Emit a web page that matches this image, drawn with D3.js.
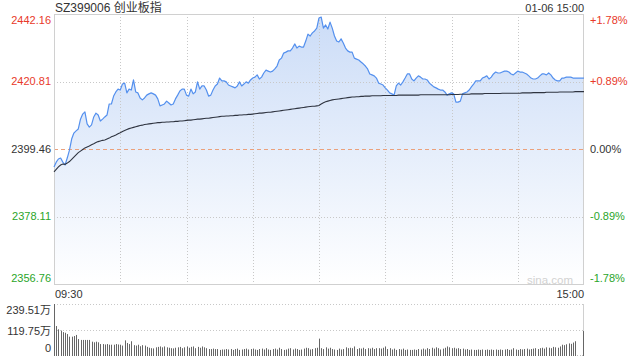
<!DOCTYPE html>
<html>
<head>
<meta charset="utf-8">
<script src="https://cdn.jsdelivr.net/npm/d3@7"></script>
<style>
html,body{margin:0;padding:0;background:#fff;}
svg{display:block;font-family:"Liberation Sans",Arial,"Noto Sans CJK SC",sans-serif;}
</style>
</head>
<body>
<svg id="chart" width="640" height="360"></svg>
<script>
// ---------- data ----------
const title = "SZ399006 创业板指";
const stamp = "01-06 15:00";
const timeLabels = ["09:30", "15:00"];
const preClose = 2399.46;
const priceTicks = [2442.16, 2420.81, 2399.46, 2378.11, 2356.76];
const pctTicks = ["+1.78%", "+0.89%", "0.00%", "-0.89%", "-1.78%"];
const volTicks = [239.51, 119.75, 0];
const volTickLabels = ["239.51万", "119.75万", "0"];

// minute prices 09:30 .. 11:30, 13:01 .. 15:00 (241 points)
const price = [
2393.8,2395.3,2396.3,2396.6,2395.3,2394.4,2396.6,2399.1,2402.6,2404.5,
2405.2,2405.8,2408.9,2410.5,2411.2,2407.4,2406.4,2407.1,2409.6,2410.8,
2410.2,2408.3,2408.9,2409.6,2410.2,2413.7,2413.7,2416.2,2417.5,2418.4,
2418.1,2420.0,2420.3,2417.2,2418.4,2418.1,2421.3,2417.5,2417.2,2415.6,
2415.0,2415.6,2416.5,2416.9,2417.2,2416.9,2416.5,2415.3,2413.1,2413.4,
2413.7,2414.6,2414.0,2413.4,2413.7,2415.3,2416.5,2417.8,2418.4,2418.4,
2416.5,2416.2,2418.4,2416.9,2417.5,2420.7,2418.4,2419.4,2419.4,2418.1,
2416.2,2416.5,2418.1,2419.4,2420.0,2421.9,2421.0,2421.0,2420.7,2419.7,
2419.4,2419.1,2418.8,2419.4,2420.7,2419.4,2420.0,2420.7,2420.3,2421.3,
2421.9,2422.2,2422.9,2421.6,2422.2,2423.5,2424.4,2424.1,2423.8,2424.1,
2424.8,2425.7,2427.6,2428.2,2429.8,2430.1,2430.5,2430.5,2431.4,2432.7,
2431.4,2432.0,2431.7,2431.7,2433.6,2435.8,2435.2,2436.2,2436.8,2437.7,
2440.9,2441.2,2437.7,2438.7,2437.4,2439.6,2437.7,2435.2,2433.6,2433.3,
2434.3,2433.0,2431.4,2430.5,2430.1,2430.1,2428.2,2427.9,2427.6,2427.0,
2426.4,2425.7,2424.8,2423.2,2422.9,2422.6,2421.9,2420.3,2420.0,2419.7,
2418.8,2418.1,2417.2,2416.9,2416.5,2419.4,2420.3,2419.7,2420.7,2421.9,
2423.2,2423.2,2421.6,2421.0,2421.9,2422.6,2422.2,2421.6,2421.6,2421.3,
2420.3,2419.7,2419.1,2418.8,2418.4,2418.1,2418.1,2417.5,2416.5,2416.9,
2417.2,2416.9,2414.3,2414.3,2414.6,2416.9,2417.2,2417.5,2418.1,2419.1,
2420.0,2421.0,2421.0,2421.0,2421.9,2422.2,2422.6,2421.6,2422.2,2423.2,
2423.8,2423.5,2423.5,2423.8,2424.1,2424.1,2423.8,2423.2,2422.9,2423.5,
2424.1,2423.8,2423.8,2423.5,2423.2,2422.6,2421.9,2421.6,2421.6,2421.9,
2422.6,2423.2,2423.2,2422.9,2423.5,2422.9,2421.9,2421.3,2421.0,2421.0,
2421.9,2421.9,2422.2,2422.2,2422.2,2421.9,2421.9,2421.9,2421.9,2421.9,
2421.9
];

// minute average price
const avgPrice = [
2392.2,2393.0,2393.8,2394.4,2394.7,2394.6,2395.0,2395.5,2396.2,2396.9,
2397.6,2398.3,2398.8,2399.3,2399.8,2400.1,2400.4,2400.8,2401.1,2401.5,
2401.8,2402.0,2402.2,2402.3,2402.6,2402.9,2403.3,2403.6,2403.9,2404.3,
2404.6,2405.0,2405.3,2405.6,2405.9,2406.1,2406.3,2406.5,2406.7,2406.9,
2407.0,2407.2,2407.3,2407.4,2407.5,2407.6,2407.7,2407.8,2407.8,2407.9,
2407.9,2408.0,2408.0,2408.1,2408.1,2408.2,2408.2,2408.3,2408.3,2408.4,
2408.5,2408.6,2408.6,2408.7,2408.8,2408.9,2408.9,2409.0,2409.1,2409.2,
2409.2,2409.3,2409.4,2409.5,2409.6,2409.7,2409.8,2409.8,2409.9,2409.9,
2410.0,2410.0,2410.1,2410.1,2410.2,2410.2,2410.3,2410.3,2410.4,2410.4,
2410.5,2410.6,2410.7,2410.8,2410.8,2410.9,2411.0,2411.1,2411.1,2411.2,
2411.3,2411.4,2411.5,2411.6,2411.7,2411.8,2411.9,2412.0,2412.1,2412.2,
2412.3,2412.4,2412.5,2412.6,2412.7,2412.8,2412.9,2413.0,2413.0,2413.1,
2413.2,2413.7,2414.1,2414.4,2414.6,2414.8,2415.0,2415.1,2415.2,2415.3,
2415.4,2415.5,2415.6,2415.7,2415.8,2415.9,2415.9,2416.0,2416.0,2416.1,
2416.1,2416.2,2416.2,2416.2,2416.3,2416.3,2416.3,2416.3,2416.3,2416.4,
2416.4,2416.4,2416.4,2416.4,2416.4,2416.4,2416.5,2416.5,2416.5,2416.5,
2416.5,2416.5,2416.5,2416.5,2416.5,2416.5,2416.6,2416.6,2416.6,2416.6,
2416.6,2416.6,2416.6,2416.6,2416.6,2416.6,2416.6,2416.6,2416.6,2416.6,
2416.7,2416.7,2416.7,2416.7,2416.8,2416.8,2416.8,2416.8,2416.8,2416.9,
2416.9,2416.9,2416.9,2416.9,2416.9,2417.0,2417.0,2417.0,2417.0,2417.0,
2417.0,2417.0,2417.0,2417.1,2417.1,2417.1,2417.1,2417.1,2417.1,2417.1,
2417.1,2417.1,2417.2,2417.2,2417.2,2417.2,2417.2,2417.3,2417.3,2417.3,
2417.3,2417.3,2417.3,2417.4,2417.4,2417.4,2417.4,2417.4,2417.4,2417.5,
2417.5,2417.5,2417.5,2417.5,2417.5,2417.5,2417.6,2417.6,2417.6,2417.6,
2417.6
];

// minute volume (万)
const volume = [
239.5,138,123,117,110,107,101,89,89,92,
97,78,74,74,74,74,74,66,63,66,
63,55,55,53,55,52,52,52,55,53,
52,48,72,60,55,68,50,48,52,45,
50,48,42,38,36,35,40,42,44,40,
44,40,38,36,35,38,40,42,36,40,
44,38,42,44,36,42,38,44,40,36,
32,32,34,32,32,28,30,30,32,30,
32,28,32,34,28,30,32,34,30,32,
34,30,28,32,34,30,36,30,28,32,
34,30,38,32,28,30,34,36,30,34,
32,28,30,34,38,36,30,32,36,38,
80,36,32,40,34,38,32,30,28,34,
30,32,40,36,38,36,44,32,36,34,
38,32,36,34,38,32,36,36,34,38,
44,32,36,30,34,28,32,30,34,28,
30,28,28,30,28,32,30,34,30,36,
32,38,34,40,36,30,34,38,44,40,
36,38,34,36,32,34,30,32,28,30,
28,28,30,28,30,28,30,28,30,28,
30,28,30,28,30,32,28,30,36,30,
28,32,30,32,34,30,32,34,36,32,
36,38,34,40,38,36,42,40,38,44,
52,50,54,58,56,62,68,2,2,2,
115
];

// ---------- drawing ----------
const svg = d3.select("#chart");
const L = 54, R = 584, T = 14, B = 284;
const VT = 304, VB = 356;

const x = d3.scaleLinear().domain([0, 240]).range([L, R]);
const y = d3.scaleLinear().domain([priceTicks[4], priceTicks[0]]).range([B, T]);
const yv = d3.scaleLinear().domain([0, volTicks[0]]).range([VB, VT]);

const red = "#e8392a", green = "#2aa52a", grid = "#c8c8c8";

// gradient for area
const defs = svg.append("defs");
const grad = defs.append("linearGradient").attr("id", "areaGrad")
  .attr("gradientUnits", "userSpaceOnUse")
  .attr("x1", 0).attr("y1", T).attr("x2", 0).attr("y2", B);
grad.append("stop").attr("offset", "0%").attr("stop-color", "#cbdcf7");
grad.append("stop").attr("offset", "100%").attr("stop-color", "#ffffff");

// area
const idx = d3.range(price.length);
svg.append("path")
  .datum(idx)
  .attr("fill", "url(#areaGrad)")
  .attr("d", d3.area().x(i => x(i)).y0(B).y1(i => y(price[i])));

// vertical grid
svg.append("g").selectAll("line").data(d3.range(30, 240, 30)).join("line")
  .attr("x1", d => Math.round(x(d)) + 0.5).attr("x2", d => Math.round(x(d)) + 0.5)
  .attr("y1", T).attr("y2", B)
  .attr("stroke", grid).attr("stroke-dasharray", "1,2");

// horizontal grid
svg.append("g").selectAll("line").data([priceTicks[1], priceTicks[3]]).join("line")
  .attr("x1", L).attr("x2", R)
  .attr("y1", d => Math.round(y(d)) + 0.5).attr("y2", d => Math.round(y(d)) + 0.5)
  .attr("stroke", grid).attr("stroke-dasharray", "1,2");

// pre-close line
svg.append("line")
  .attr("x1", L).attr("x2", R)
  .attr("y1", Math.round(y(preClose)) + 0.5).attr("y2", Math.round(y(preClose)) + 0.5)
  .attr("stroke", "#eba17c").attr("stroke-dasharray", "4,3");

// border
svg.append("rect").attr("x", L + 0.5).attr("y", T + 0.5)
  .attr("width", R - L - 1).attr("height", B - T)
  .attr("fill", "none").attr("stroke", "#d0d0d0");

// watermark
svg.append("text").attr("x", 573).attr("y", 283.5).attr("text-anchor", "end")
  .attr("font-size", 11.5).attr("fill", "#d2d2d2").text("sina.com");

// price line
svg.append("path").datum(idx)
  .attr("fill", "none").attr("stroke", "#5490ee").attr("stroke-width", 1.2)
  .attr("stroke-linejoin", "round")
  .attr("d", d3.line().x(i => x(i)).y(i => y(price[i])));

// average line
svg.append("path").datum(idx)
  .attr("fill", "none").attr("stroke", "#2f3440").attr("stroke-width", 1.1)
  .attr("d", d3.line().x(i => x(i)).y(i => y(avgPrice[i])));

// left labels
const labOff = [6, 0, 0, 0, -6];
svg.append("g").selectAll("text").data(priceTicks).join("text")
  .attr("x", 51).attr("y", (d, i) => y(d) + labOff[i])
  .attr("dy", "0.35em").attr("text-anchor", "end").attr("font-size", 11)
  .attr("fill", d => d > preClose ? red : d < preClose ? green : "#333")
  .text(d => d.toFixed(2));

// right labels
svg.append("g").selectAll("text").data(priceTicks).join("text")
  .attr("x", 590).attr("y", (d, i) => y(d) + labOff[i])
  .attr("dy", "0.35em").attr("text-anchor", "start").attr("font-size", 11)
  .attr("fill", d => d > preClose ? red : d < preClose ? green : "#333")
  .text((d, i) => pctTicks[i]);

// title and time stamp
svg.append("text").attr("x", 55).attr("y", 12).attr("font-size", 12)
  .attr("fill", "#333").text(title);
svg.append("text").attr("x", 584).attr("y", 12).attr("font-size", 11)
  .attr("text-anchor", "end").attr("fill", "#333").text(stamp);

// time labels
svg.append("text").attr("x", 55).attr("y", 298).attr("font-size", 11)
  .attr("fill", "#333").text(timeLabels[0]);
svg.append("text").attr("x", 584).attr("y", 298).attr("font-size", 11)
  .attr("text-anchor", "end").attr("fill", "#333").text(timeLabels[1]);

// volume grid
svg.append("g").selectAll("line").data([volTicks[0], volTicks[1]]).join("line")
  .attr("x1", L).attr("x2", R)
  .attr("y1", d => Math.round(yv(d)) + 0.5).attr("y2", d => Math.round(yv(d)) + 0.5)
  .attr("stroke", grid).attr("stroke-dasharray", "1,2");
svg.append("line").attr("x1", R - 0.5).attr("x2", R - 0.5)
  .attr("y1", VT).attr("y2", VB).attr("stroke", "#d0d0d0");

// volume bars
svg.append("g").selectAll("rect").data(volume).join("rect")
  .attr("x", (d, i) => Math.round(x(i)) - (i === 240 ? 1 : 0))
  .attr("width", 1)
  .attr("y", d => yv(d))
  .attr("height", d => VB - yv(d))
  .attr("fill", "#666");

// volume labels
const volOff = [6, 1, -8];
svg.append("g").selectAll("text").data(volTicks).join("text")
  .attr("x", 51).attr("y", (d, i) => yv(d) + volOff[i])
  .attr("dy", "0.35em").attr("text-anchor", "end").attr("font-size", 11)
  .attr("fill", "#333").text((d, i) => volTickLabels[i]);
</script>
</body>
</html>
